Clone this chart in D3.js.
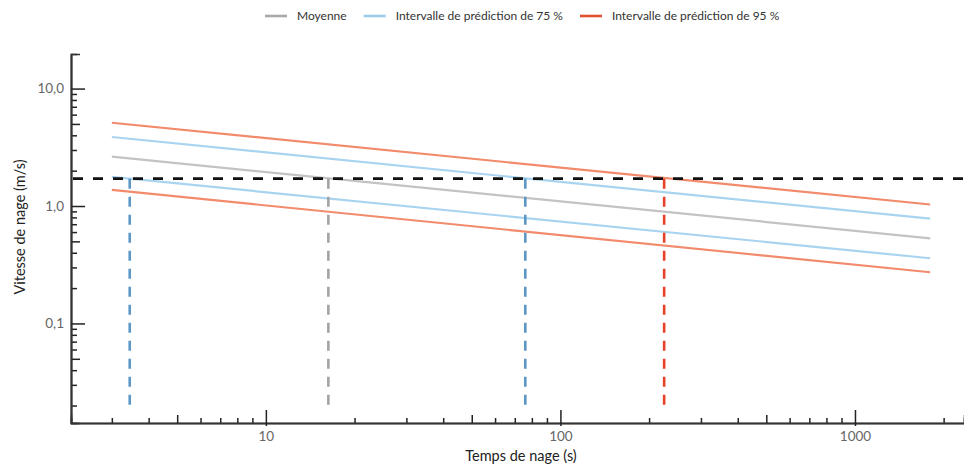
<!DOCTYPE html>
<html lang="fr">
<head>
<meta charset="utf-8">
<title>Vitesse de nage</title>
<script src="https://cdn.jsdelivr.net/npm/d3@7"></script>
<style>
  body { margin: 0; background: #fff; }
  svg text { font-family: Lato, "Open Sans", sans-serif; }
</style>
</head>
<body>
<script>
// DATA
var xEnds = [3, 1800];                 // temps de nage (s), start / end of each line
var moyenne = [2.63, 0.531];
var pi75Haut = [3.87, 0.78];
var pi75Bas = [1.77, 0.359];
var pi95Haut = [5.12, 1.03];
var pi95Bas = [1.37, 0.273];
var seuil = 1.71;                      // vitesse seuil (ligne pointillée noire)
var croisements = [3.45, 16.3, 76, 225];
var croisementsSerie = ["pi75", "moy", "pi75", "pi95"];
var basVerticales = 0.019;
var xTicks = [10, 100, 1000];
var yTicks = [0.1, 1, 10];
var yTickLabels = ["0,1", "1,0", "10,0"];
var legendeNoms = ["Moyenne", "Intervalle de prédiction de 75 %", "Intervalle de prédiction de 95 %"];

// SIZE
var w = 964, h = 467;
var colLine = { moy: "#c3c3c3", pi75: "#a9d4ef", pi95: "#f28a6c" };
var colSwatch = { moy: "#a9a9a9", pi75: "#9ccbea", pi95: "#e2502e" };
var colDash = { moy: "#a3a3a3", pi75: "#5d97c6", pi95: "#e8412a" };

var svg = d3.select("body").append("svg")
  .attr("width", w).attr("height", h);

// SCALES
var x = d3.scaleLog().domain([2.18, 2345]).range([71, 964]);
var y = d3.scaleLog().domain([0.0142, 19.7]).range([423, 54]);

// minor tick values
var minorX = [], midX = [];
[1, 10, 100, 1000].forEach(function(d) {
  for (var k = 2; k <= 9; k++) {
    var v = d * k;
    if (v < x.domain()[0] || v > x.domain()[1]) continue;
    if (k == 5) midX.push(v); else minorX.push(v);
  }
});
var minorY = [], midY = [];
[0.01, 0.1, 1, 10].forEach(function(d) {
  for (var k = 2; k <= 9; k++) {
    var v = d * k;
    if (v < y.domain()[0] || v > y.domain()[1]) continue;
    if (k == 5) midY.push(v); else minorY.push(v);
  }
});

// AXES
var gx = svg.append("g").attr("transform", "translate(0," + y.range()[0] + ")");
gx.call(d3.axisBottom(x).tickValues(minorX).tickSize(-5).tickFormat(""));
gx.append("g").call(d3.axisBottom(x).tickValues(midX).tickSize(-8).tickFormat(""));
gx.append("g").call(d3.axisBottom(x).tickValues(xTicks).tickSizeInner(-13).tickSizeOuter(0)
  .tickFormat(d3.format("d")));

var gy = svg.append("g").attr("transform", "translate(" + x.range()[0] + ",0)");
gy.call(d3.axisLeft(y).tickValues(minorY).tickSize(-6).tickFormat(""));
gy.append("g").call(d3.axisLeft(y).tickValues(midY).tickSize(-9).tickFormat(""));
gy.append("g").call(d3.axisLeft(y).tickValues(yTicks).tickSizeInner(-14).tickSizeOuter(0)
  .tickFormat(function(d, i) { return yTickLabels[i]; }));

svg.selectAll(".domain").attr("stroke", "#333").attr("stroke-width", 1.6);
svg.selectAll(".tick line").attr("stroke", "#222").attr("stroke-width", 1.5);
gx.selectAll(".tick text").attr("y", 8).attr("dy", "0.71em")
  .attr("font-size", 13.5).attr("fill", "#666").attr("font-family", "Lato, sans-serif");
gy.selectAll(".tick text").attr("x", -7)
  .attr("font-size", 13.5).attr("fill", "#666").attr("font-family", "Lato, sans-serif");
// major x ticks poke slightly below the axis
gx.selectAll(".tick line").filter(function(d) { return xTicks.indexOf(d) >= 0; })
  .attr("y2", -13).attr("y1", 3);

// axis titles
svg.append("text")
  .attr("x", 521).attr("y", 461)
  .attr("text-anchor", "middle")
  .attr("font-size", 14.5).attr("fill", "#222")
  .text("Temps de nage (s)");
svg.append("text")
  .attr("transform", "translate(25,227) rotate(-90)")
  .attr("text-anchor", "middle")
  .attr("font-size", 14.5).attr("fill", "#222")
  .text("Vitesse de nage (m/s)");

// SERIES LINES
var series = [
  { key: "pi95", v: pi95Haut },
  { key: "pi75", v: pi75Haut },
  { key: "moy", v: moyenne },
  { key: "pi75", v: pi75Bas },
  { key: "pi95", v: pi95Bas }
];
var line = d3.line()
  .x(function(d) { return x(d[0]); })
  .y(function(d) { return y(d[1]); });

svg.append("g").selectAll("path")
  .data(series)
  .enter()
  .append("path")
  .attr("d", function(s) { return line(xEnds.map(function(t, i) { return [t, s.v[i]]; })); })
  .attr("fill", "none")
  .attr("stroke", function(s) { return colLine[s.key]; })
  .attr("stroke-width", 2.2);

// VERTICAL DASHED LINES
svg.append("g").selectAll("line")
  .data(croisements)
  .enter()
  .append("line")
  .attr("x1", function(d) { return x(d); })
  .attr("x2", function(d) { return x(d); })
  .attr("y1", y(seuil))
  .attr("y2", y(basVerticales))
  .attr("stroke", function(d, i) { return colDash[croisementsSerie[i]]; })
  .attr("stroke-width", 2.6)
  .attr("stroke-dasharray", "10,8");

// HORIZONTAL THRESHOLD
svg.append("line")
  .attr("x1", x.range()[0])
  .attr("x2", w)
  .attr("y1", y(seuil))
  .attr("y2", y(seuil))
  .attr("stroke", "#111")
  .attr("stroke-width", 2.8)
  .attr("stroke-dasharray", "10,10")
  .attr("stroke-dashoffset", -2);

// LEGEND
var legKeys = ["moy", "pi75", "pi95"];
var leg = svg.append("g").attr("transform", "translate(265,16)");
var lx = 0;
legendeNoms.forEach(function(n, i) {
  leg.append("line")
    .attr("x1", lx).attr("x2", lx + 22)
    .attr("y1", 0).attr("y2", 0)
    .attr("stroke", colSwatch[legKeys[i]])
    .attr("stroke-width", 2.6);
  var t = leg.append("text")
    .attr("x", lx + 32).attr("y", 0).attr("dy", "0.35em")
    .attr("font-size", 12).attr("fill", "#333")
    .text(n);
  lx += 32 + t.node().getComputedTextLength() + 17;
});
</script>
</body>
</html>
